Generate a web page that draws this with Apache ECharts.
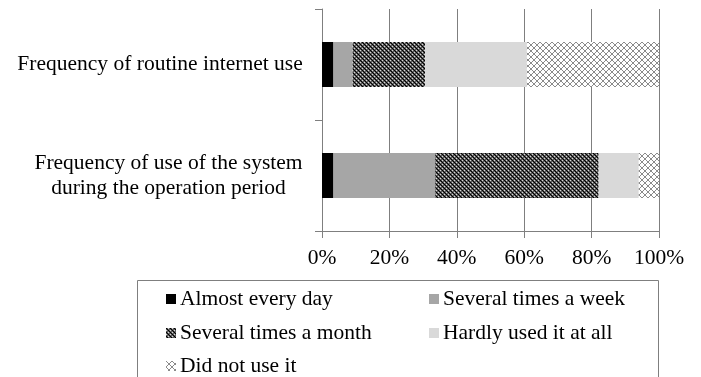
<!DOCTYPE html>
<html>
<head>
<meta charset="utf-8">
<script src="https://cdn.jsdelivr.net/npm/echarts@6/dist/echarts.min.js"></script>
<style>
  html, body { margin: 0; padding: 0; background: #fff; }
  #chart { width: 701px; height: 377px; }
</style>
</head>
<body>
<div id="chart"></div>
<script>
// Survey questions (top to bottom)
const categories = [
  'Frequency of routine internet use',
  'Frequency of use of the system\nduring the operation period'
];
const seriesNames = [
  'Almost every day',
  'Several times a week',
  'Several times a month',
  'Hardly used it at all',
  'Did not use it'
];
// Share of respondents (%) per answer, one value per question
const almostEveryDay   = [3.4, 3.4];
const severalPerWeek   = [5.7, 30.2];
const severalPerMonth  = [21.5, 48.5];
const hardlyUsed       = [30.2, 11.9];
const didNotUse        = [39.2, 6.0];
const tickLabels = ['0%', '20%', '40%', '60%', '80%', '100%'];

const FONT = '"Liberation Serif", "Times New Roman", serif';
const FS = 21.5;

// Dark checkered fill
function checkerPattern() {
  const c = document.createElement('canvas');
  c.width = 4; c.height = 4;
  const g = c.getContext('2d');
  g.fillStyle = '#5c5c5c'; g.fillRect(0, 0, 4, 4);
  g.fillStyle = '#000000';
  g.fillRect(0, 0, 1, 1); g.fillRect(2, 2, 1, 1);
  g.fillRect(1, 1, 1, 1); g.fillRect(3, 3, 1, 1);
  g.fillStyle = '#d8d8d8';
  g.fillRect(2, 0, 1, 1); g.fillRect(0, 2, 1, 1);
  return c;
}
// Diagonal cross-hatch on white
function hatchPattern() {
  const n = 6;
  const c = document.createElement('canvas');
  c.width = n; c.height = n;
  const g = c.getContext('2d');
  g.fillStyle = '#ffffff'; g.fillRect(0, 0, n, n);
  g.fillStyle = '#8a8a8a';
  for (let i = 0; i < n; i++) {
    g.fillRect(i, i, 1, 1);
    g.fillRect(n - 1 - i, i, 1, 1);
  }
  return c;
}

const fills = [
  '#000000',
  '#a6a6a6',
  { image: checkerPattern(), repeat: 'repeat' },
  '#d9d9d9',
  { image: hatchPattern(), repeat: 'repeat' }
];
const values = [almostEveryDay, severalPerWeek, severalPerMonth, hardlyUsed, didNotUse];

// Multi-line category names: lines centred on each other, block right-aligned to the axis
const measureCtx = document.createElement('canvas').getContext('2d');
measureCtx.font = FS + 'px ' + FONT;
function blockWidth(text) {
  return Math.ceil(Math.max(...text.split('\n').map(l => measureCtx.measureText(l).width)));
}
const catRich = {};
categories.forEach((c, i) => {
  catRich['c' + i] = {
    width: blockWidth(c), align: 'center',
    fontFamily: FONT, fontSize: FS, color: '#000', lineHeight: 25
  };
});

const chart = echarts.init(document.getElementById('chart'), null, { renderer: 'canvas' });

// Legend in two columns: one legend component per entry
const legendSlots = [
  { left: 166, top: 288 },  // Almost every day
  { left: 429, top: 288 },  // Several times a week
  { left: 166, top: 322 },  // Several times a month
  { left: 429, top: 322 },  // Hardly used it at all
  { left: 166, top: 355 }   // Did not use it
];
const legends = seriesNames.map((name, i) => ({
  left: legendSlots[i].left,
  top: legendSlots[i].top,
  orient: 'horizontal',
  icon: 'rect',
  itemWidth: 10,
  itemHeight: 10,
  padding: 0,
  selectedMode: false,
  data: [name],
  textStyle: { fontFamily: FONT, fontSize: FS, color: '#000', padding: [0, 0, 0, -1] }
}));

chart.setOption({
  animation: false,
  backgroundColor: '#ffffff',
  grid: { left: 322, right: 42, top: 9, bottom: 146, containLabel: false },
  xAxis: {
    type: 'value',
    min: 0, max: 100, interval: 20,
    axisLine: { show: true, lineStyle: { color: '#7f7f7f', width: 1 } },
    axisTick: { show: true, length: 7, lineStyle: { color: '#7f7f7f' } },
    splitLine: { show: true, lineStyle: { color: '#7f7f7f', width: 1 } },
    axisLabel: {
      fontFamily: FONT, fontSize: FS, color: '#000', margin: 16,
      formatter: v => tickLabels[Math.round(v / 20)]
    }
  },
  yAxis: {
    type: 'category',
    inverse: true,
    data: categories,
    axisLine: { show: true, lineStyle: { color: '#7f7f7f', width: 1 } },
    axisTick: { show: true, length: 7, alignWithLabel: false, lineStyle: { color: '#7f7f7f' } },
    axisLabel: {
      margin: 19,
      align: 'right',
      formatter: (v, idx) => v.split('\n').map(l => '{c' + idx + '|' + l + '}').join('\n'),
      rich: catRich
    }
  },
  legend: legends,
  graphic: [{
    type: 'rect',
    shape: { x: 137.5, y: 280.5, width: 521, height: 130 },
    style: { fill: 'none', stroke: '#7f7f7f', lineWidth: 1 },
    silent: true
  }],
  series: seriesNames.map((name, i) => ({
    name,
    type: 'bar',
    stack: 'total',
    barWidth: 45,
    data: values[i],
    itemStyle: { color: fills[i] }
  }))
});
</script>
</body>
</html>
